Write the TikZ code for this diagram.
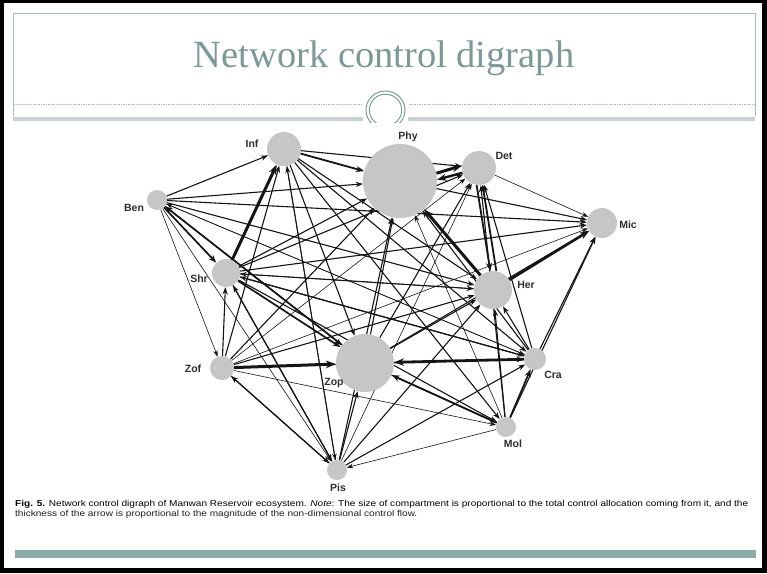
\documentclass[tikz,border=0pt]{standalone}
\usepackage{fontspec}
\setmainfont{Liberation Serif}
\setsansfont{Liberation Sans}
\usetikzlibrary{arrows.meta}

\definecolor{titleteal}{HTML}{7B9996}
\definecolor{framec}{HTML}{A9BEBC}
\definecolor{ovalc}{HTML}{7F9E9B}
\definecolor{bandc}{HTML}{C8D2D6}
\definecolor{barc}{HTML}{8CAAA7}
\definecolor{compgrey}{HTML}{C6C6C6}
\definecolor{labgrey}{HTML}{2E2E2E}
\definecolor{edgec}{HTML}{141414}
\definecolor{captc}{HTML}{1E1E1E}

\pgfdeclarelayer{slide}
\pgfdeclarelayer{edges}
\pgfsetlayers{slide,edges,main}

\newsavebox\capboxa
\newcommand\capfont{\sffamily\fontsize{8.6}{10}\selectfont}

\tikzset{
  comp/.style={circle,fill=compgrey,inner sep=0pt,minimum size=#1},
  lab/.style={font=\sffamily\bfseries\fontsize{10.5}{12}\selectfont,text=labgrey,inner sep=0pt},
  flow/.style={draw=edgec,line width=#1pt,
    -{Stealth[length=5.5pt 1.5,width=3.8pt 1.3]}},
}

\begin{document}
% caption line, measured once to get its horizontal squeeze
\sbox\capboxa{\capfont\textbf{Fig. 5.} Network control digraph of Manwan Reservoir ecosystem. \textit{Note}: The size of compartment is proportional to the total control allocation coming from it, and the}
\pgfmathsetmacro\capsx{733pt/\the\wd\capboxa}%
\begin{tikzpicture}[x=1pt,y=-1pt]
\useasboundingbox (0,0) rectangle (767,573);

\begin{pgfonlayer}{slide}
% slide border
\fill[black] (0,0) rectangle (767,573);
\fill[white] (4,3) rectangle (762,568);
\end{pgfonlayer}

% title frame, dashed rule and band
\draw[framec,line width=1pt] (13,116) -- (13,13) -- (755,13) -- (755,116);
\draw[framec,line width=0.6pt,dash pattern=on 1.5pt off 1pt] (13,104) -- (362,104);
\draw[framec,line width=0.6pt,dash pattern=on 1.5pt off 1pt] (409,104) -- (755,104);
\fill[bandc] (13,117) rectangle (363,121);
\fill[bandc] (408,117) rectangle (755,121);

% ring ornament
\begin{scope}
  \clip (340,80) rectangle (430,122);
  \draw[ovalc,line width=1pt] (385.5,110) ellipse [x radius=19.5,y radius=19];
  \draw[ovalc,line width=1pt] (385.5,110) ellipse [x radius=16.2,y radius=15.8];
\end{scope}

\node[font=\fontsize{38.5}{44}\selectfont,text=titleteal,inner sep=0pt] (title) at (384,58) {Network control digraph};

% compartments
\node[comp=34pt] (Inf) at (284,149) {};
\node[comp=74pt] (Phy) at (400,181) {};
\node[comp=34pt] (Det) at (479,168) {};
\node[comp=20pt] (Ben) at (157,200) {};
\node[comp=30pt] (Mic) at (602,223) {};
\node[comp=28pt] (Shr) at (226,273) {};
\node[comp=38pt] (Her) at (493,290) {};
\node[comp=24pt] (Zof) at (222,368) {};
\node[comp=58pt] (Zop) at (365,363) {};
\node[comp=22pt] (Cra) at (535,359) {};
\node[comp=20pt] (Mol) at (506,427) {};
\node[comp=20pt] (Pis) at (337,470) {};

\node[lab] (lInf) at (252,144) {Inf};
\node[lab] (lPhy) at (408,137) {Phy};
\node[lab] (lDet) at (504,156) {Det};
\node[lab] (lBen) at (134,208) {Ben};
\node[lab] (lMic) at (628,225) {Mic};
\node[lab] (lShr) at (199,279) {Shr};
\node[lab] (lHer) at (526,285) {Her};
\node[lab] (lZof) at (193,369) {Zof};
\node[lab] (lZop) at (334,383) {Zop};
\node[lab] (lCra) at (553,375) {Cra};
\node[lab] (lMol) at (513,444) {Mol};
\node[lab] (lPis) at (338,488) {Pis};

% control flows
\begin{pgfonlayer}{edges}
\foreach \a/\b/\w in {
  Ben/Inf/1.1, Ben/Phy/1.1, Ben/Mic/1.1, Ben/Her/1.1, Ben/Shr/1.7,
  Ben/Zop/1.1, Ben/Cra/0.6, Ben/Zof/0.6, Ben/Pis/0.6,
  Zop/Ben/1.7, Cra/Ben/0.6,
  Shr/Inf/3.0, Shr/Phy/1.1, Shr/Det/1.1, Shr/Mic/1.1, Shr/Her/1.1,
  Shr/Zop/1.7, Shr/Cra/1.1, Shr/Mol/1.1, Shr/Pis/1.1,
  Zof/Shr/1.1, Pis/Shr/1.1, Cra/Shr/1.1, Her/Shr/0.6,
  Inf/Phy/1.8, Inf/Det/1.1, Inf/Her/1.1, Inf/Zop/1.1, Inf/Cra/1.1, Inf/Mol/1.1,
  Zof/Inf/1.1, Pis/Inf/1.1, Inf/Pis/0.6,
  Phy/Mic/1.1, Her/Phy/3.0, Zop/Phy/1.1, Pis/Phy/1.1, Zof/Phy/1.1,
  Cra/Phy/1.1, Mol/Phy/0.6,
  Det/Mic/0.6, Zop/Det/1.1, Pis/Det/0.6, Zof/Det/0.6, Cra/Det/1.1, Mol/Det/1.1,
  Her/Mic/2.6, Zop/Mic/1.1, Zof/Mic/0.6, Cra/Mic/1.1, Mol/Mic/1.1,
  Zof/Her/1.1, Zop/Her/1.1, Pis/Her/1.1, Cra/Her/1.1, Mol/Her/1.1,
  Zof/Zop/3.0, Cra/Zop/2.8, Mol/Zop/1.8, Pis/Zop/1.1,
  Zof/Cra/0.6, Zof/Mol/0.6, Pis/Zof/1.1, Zof/Pis/1.1,
  Zop/Cra/1.1, Mol/Cra/1.7, Pis/Cra/1.1, Zop/Mol/1.1, Mol/Pis/0.6}
  \draw[flow=\w] (\a) -- (\b);
% paired flows drawn apart
\draw[flow=3.0] (Phy.12) -- (Det.172);
\draw[flow=2.4] (Det.196) -- (Phy.2);
\draw[flow=1.8] (Det.262) -- (Her.98);
\draw[flow=1.8] (Her.80) -- (Det.282);
\end{pgfonlayer}

% caption
\node[anchor=base west,inner sep=0pt,text=captc] (cap1) at (15,506)
  {\scalebox{\capsx}[1]{\usebox\capboxa}};
\node[anchor=base west,inner sep=0pt,text=captc] (cap2) at (15,516.5)
  {\scalebox{\capsx}[1]{\capfont thickness of the arrow is proportional to the magnitude of the non-dimensional control flow.}};

% footer bar
\fill[barc] (15,550) rectangle (756,558);
\end{tikzpicture}
\end{document}
